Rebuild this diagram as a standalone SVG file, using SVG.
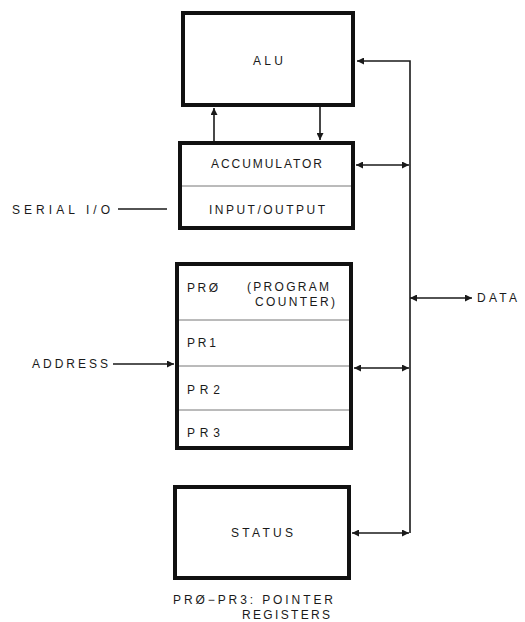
<svg xmlns="http://www.w3.org/2000/svg" width="525" height="622" viewBox="0 0 525 622">
<defs>
<marker id="ah" viewBox="0 0 10 10" refX="10" refY="5" markerWidth="9" markerHeight="7" markerUnits="userSpaceOnUse" orient="auto-start-reverse">
<path d="M0,0 L10,5 L0,10 z" fill="#1a1a1a"/>
</marker>
<style>
.box{fill:#fff;stroke:#111;stroke-width:4}
.div{stroke:#777;stroke-width:1}
.t{font-family:"Liberation Sans",Arial,sans-serif;font-size:12px;fill:#1a1a1a}
.c{stroke:#1a1a1a;stroke-width:1.6;fill:none}
</style>
</defs>
<rect width="525" height="622" fill="#fff"/>
<g id="alu">
<rect class="box" x="183" y="13" width="170" height="92"/>
<text class="t" x="253" y="65" textLength="30" lengthAdjust="spacing">ALU</text>
</g>
<g id="accumulator">
<rect class="box" x="180" y="143" width="173" height="85"/>
<line class="div" x1="182" y1="186" x2="351" y2="186"/>
<text class="t" x="211" y="168" textLength="111" lengthAdjust="spacing">ACCUMULATOR</text>
<text class="t" x="209" y="214" textLength="116" lengthAdjust="spacing">INPUT/OUTPUT</text>
</g>
<g id="serial-io">
<text class="t" x="12" y="214" textLength="98" lengthAdjust="spacing">SERIAL I/O</text>
</g>
<g id="pointer-registers">
<rect class="box" x="177" y="264" width="174" height="184"/>
<line class="div" x1="179" y1="320" x2="349" y2="320"/>
<line class="div" x1="179" y1="366" x2="349" y2="366"/>
<line class="div" x1="179" y1="410" x2="349" y2="410"/>
<text class="t" x="187" y="292" textLength="31" lengthAdjust="spacing">PRØ</text>
<text class="t" x="247" y="291" textLength="82" lengthAdjust="spacing">(PROGRAM</text>
<text class="t" x="255" y="306" textLength="80" lengthAdjust="spacing">COUNTER)</text>
<text class="t" x="187" y="347" textLength="29" lengthAdjust="spacing">PR1</text>
<text class="t" x="187" y="394" textLength="33" lengthAdjust="spacing">PR2</text>
<text class="t" x="187" y="437" textLength="33" lengthAdjust="spacing">PR3</text>
</g>
<g id="address">
<text class="t" x="32" y="368" textLength="76" lengthAdjust="spacing">ADDRESS</text>
</g>
<g id="status">
<rect class="box" x="175" y="487" width="174" height="91"/>
<text class="t" x="231" y="537" textLength="62" lengthAdjust="spacing">STATUS</text>
</g>
<g id="data">
<text class="t" x="477" y="302" textLength="40" lengthAdjust="spacing">DATA</text>
</g>
<g id="note">
<text class="t" x="173" y="604" textLength="160" lengthAdjust="spacing">PRØ−PR3: POINTER</text>
<text class="t" x="242" y="619" textLength="88" lengthAdjust="spacing">REGISTERS</text>
</g>
<g id="connectors">
<path class="c" d="M410,533 L410,61 L357,61" marker-end="url(#ah)"/>
<line class="c" x1="214" y1="141" x2="214" y2="108" marker-end="url(#ah)"/>
<line class="c" x1="320" y1="107" x2="320" y2="140" marker-end="url(#ah)"/>
<line class="c" x1="356" y1="165" x2="409" y2="165" marker-start="url(#ah)" marker-end="url(#ah)"/>
<line class="c" x1="118" y1="209" x2="167" y2="209"/>
<line class="c" x1="410" y1="298" x2="472" y2="298" marker-start="url(#ah)" marker-end="url(#ah)"/>
<line class="c" x1="113" y1="364" x2="174" y2="364" marker-end="url(#ah)"/>
<line class="c" x1="354" y1="368" x2="409" y2="368" marker-start="url(#ah)" marker-end="url(#ah)"/>
<line class="c" x1="352" y1="533" x2="409" y2="533" marker-start="url(#ah)" marker-end="url(#ah)"/>
</g>
</svg>
